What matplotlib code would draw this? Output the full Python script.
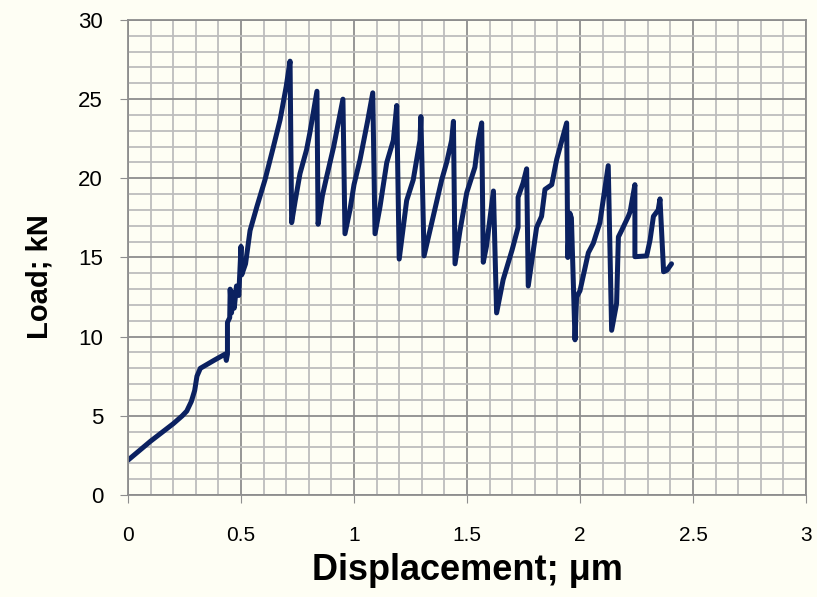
import matplotlib.pyplot as plt
from matplotlib.ticker import MultipleLocator, FormatStrFormatter

# load-displacement curve
displacement = [0.000, 0.050, 0.100, 0.150, 0.200, 0.240, 0.260, 0.280, 0.295, 0.305,
                0.320, 0.380, 0.430, 0.435, 0.440, 0.440, 0.450, 0.452, 0.458, 0.465,
                0.470, 0.480, 0.490, 0.500, 0.503, 0.520, 0.540, 0.570, 0.606, 0.640,
                0.673, 0.700, 0.717, 0.724, 0.740, 0.761, 0.790, 0.805, 0.836, 0.841,
                0.860, 0.879, 0.910, 0.951, 0.960, 0.982, 1.000, 1.027, 1.060, 1.083,
                1.093, 1.115, 1.145, 1.174, 1.189, 1.200, 1.233, 1.262, 1.292, 1.296,
                1.310, 1.336, 1.388, 1.410, 1.432, 1.440, 1.447, 1.469, 1.499, 1.535,
                1.550, 1.565, 1.572, 1.586, 1.617, 1.631, 1.660, 1.700, 1.726, 1.726,
                1.748, 1.764, 1.771, 1.808, 1.830, 1.845, 1.875, 1.897, 1.941, 1.946,
                1.955, 1.962, 1.978, 1.985, 2.000, 2.037, 2.059, 2.088, 2.125, 2.140,
                2.162, 2.170, 2.184, 2.214, 2.222, 2.243, 2.243, 2.295, 2.310, 2.325,
                2.346, 2.354, 2.370, 2.385, 2.405]
load = [2.2, 2.8, 3.4, 3.95, 4.5, 5.0, 5.3, 5.9, 6.6, 7.5,
        8.0, 8.5, 8.9, 8.5, 8.9, 10.9, 11.2, 13.0, 11.5, 12.8,
        11.8, 13.2, 12.6, 15.7, 13.9, 14.6, 16.7, 18.2, 19.9, 21.8,
        23.7, 25.8, 27.4, 17.2, 18.6, 20.3, 21.8, 22.9, 25.5, 17.1,
        18.9, 20.1, 22.0, 25.0, 16.5, 18.0, 19.6, 21.2, 23.6, 25.4,
        16.5, 18.2, 21.0, 22.4, 24.6, 14.9, 18.6, 19.9, 22.4, 23.9,
        15.1, 16.7, 19.9, 21.0, 22.4, 23.6, 14.6, 16.7, 19.1, 20.7,
        22.4, 23.5, 14.7, 15.7, 19.2, 11.5, 13.6, 15.5, 16.9, 18.8,
        19.7, 20.6, 13.2, 16.9, 17.6, 19.3, 19.6, 21.2, 23.5, 15.0,
        17.8, 17.5, 9.8, 12.5, 12.9, 15.3, 15.9, 17.2, 20.8, 10.4,
        12.1, 16.3, 16.7, 17.6, 17.9, 19.6, 15.05, 15.1, 16.1, 17.6,
        18.0, 18.7, 14.1, 14.2, 14.6]

bg = "#FEFEF4"
fig = plt.figure(figsize=(8.17, 5.97), dpi=100, facecolor=bg)
ax = fig.add_axes([0.1567, 0.1709, 0.8298, 0.7956], facecolor=bg)

ax.plot(displacement, load, color="#0B2160", lw=3.6,
        solid_joinstyle="round", solid_capstyle="round")

ax.set_xlim(0, 3)
ax.set_ylim(0, 30)
ax.xaxis.set_major_locator(MultipleLocator(0.5))
ax.xaxis.set_minor_locator(MultipleLocator(0.1))
ax.yaxis.set_major_locator(MultipleLocator(5))
ax.yaxis.set_minor_locator(MultipleLocator(1))
ax.xaxis.set_major_formatter(FormatStrFormatter("%g"))

ax.grid(which="minor", color="#BDBDBD", lw=1.3)
ax.grid(which="major", color="#8E8E8E", lw=1.3)
ax.set_axisbelow(True)
for s in ax.spines.values():
    s.set_color("#8E8E8E")
    s.set_linewidth(1.3)

ax.tick_params(which="minor", length=0)
ax.tick_params(axis="x", which="major", length=6, color="#8E8E8E", pad=16,
               labelsize=15)
ax.tick_params(axis="y", which="major", length=6, color="#8E8E8E", pad=12,
               labelsize=16)
for t in ax.get_xticklabels() + ax.get_yticklabels():
    t.set_fontfamily("Liberation Sans")

ax.set_xlabel("Displacement; μm", fontsize=26, fontweight="bold",
              family="Liberation Sans", labelpad=6)
ax.set_ylabel("Load; kN", fontsize=21, fontweight="bold",
              family="Liberation Sans")
ax.yaxis.set_label_coords(-0.11, 0.46)

fig.savefig("out.png", dpi=100, facecolor=bg)
